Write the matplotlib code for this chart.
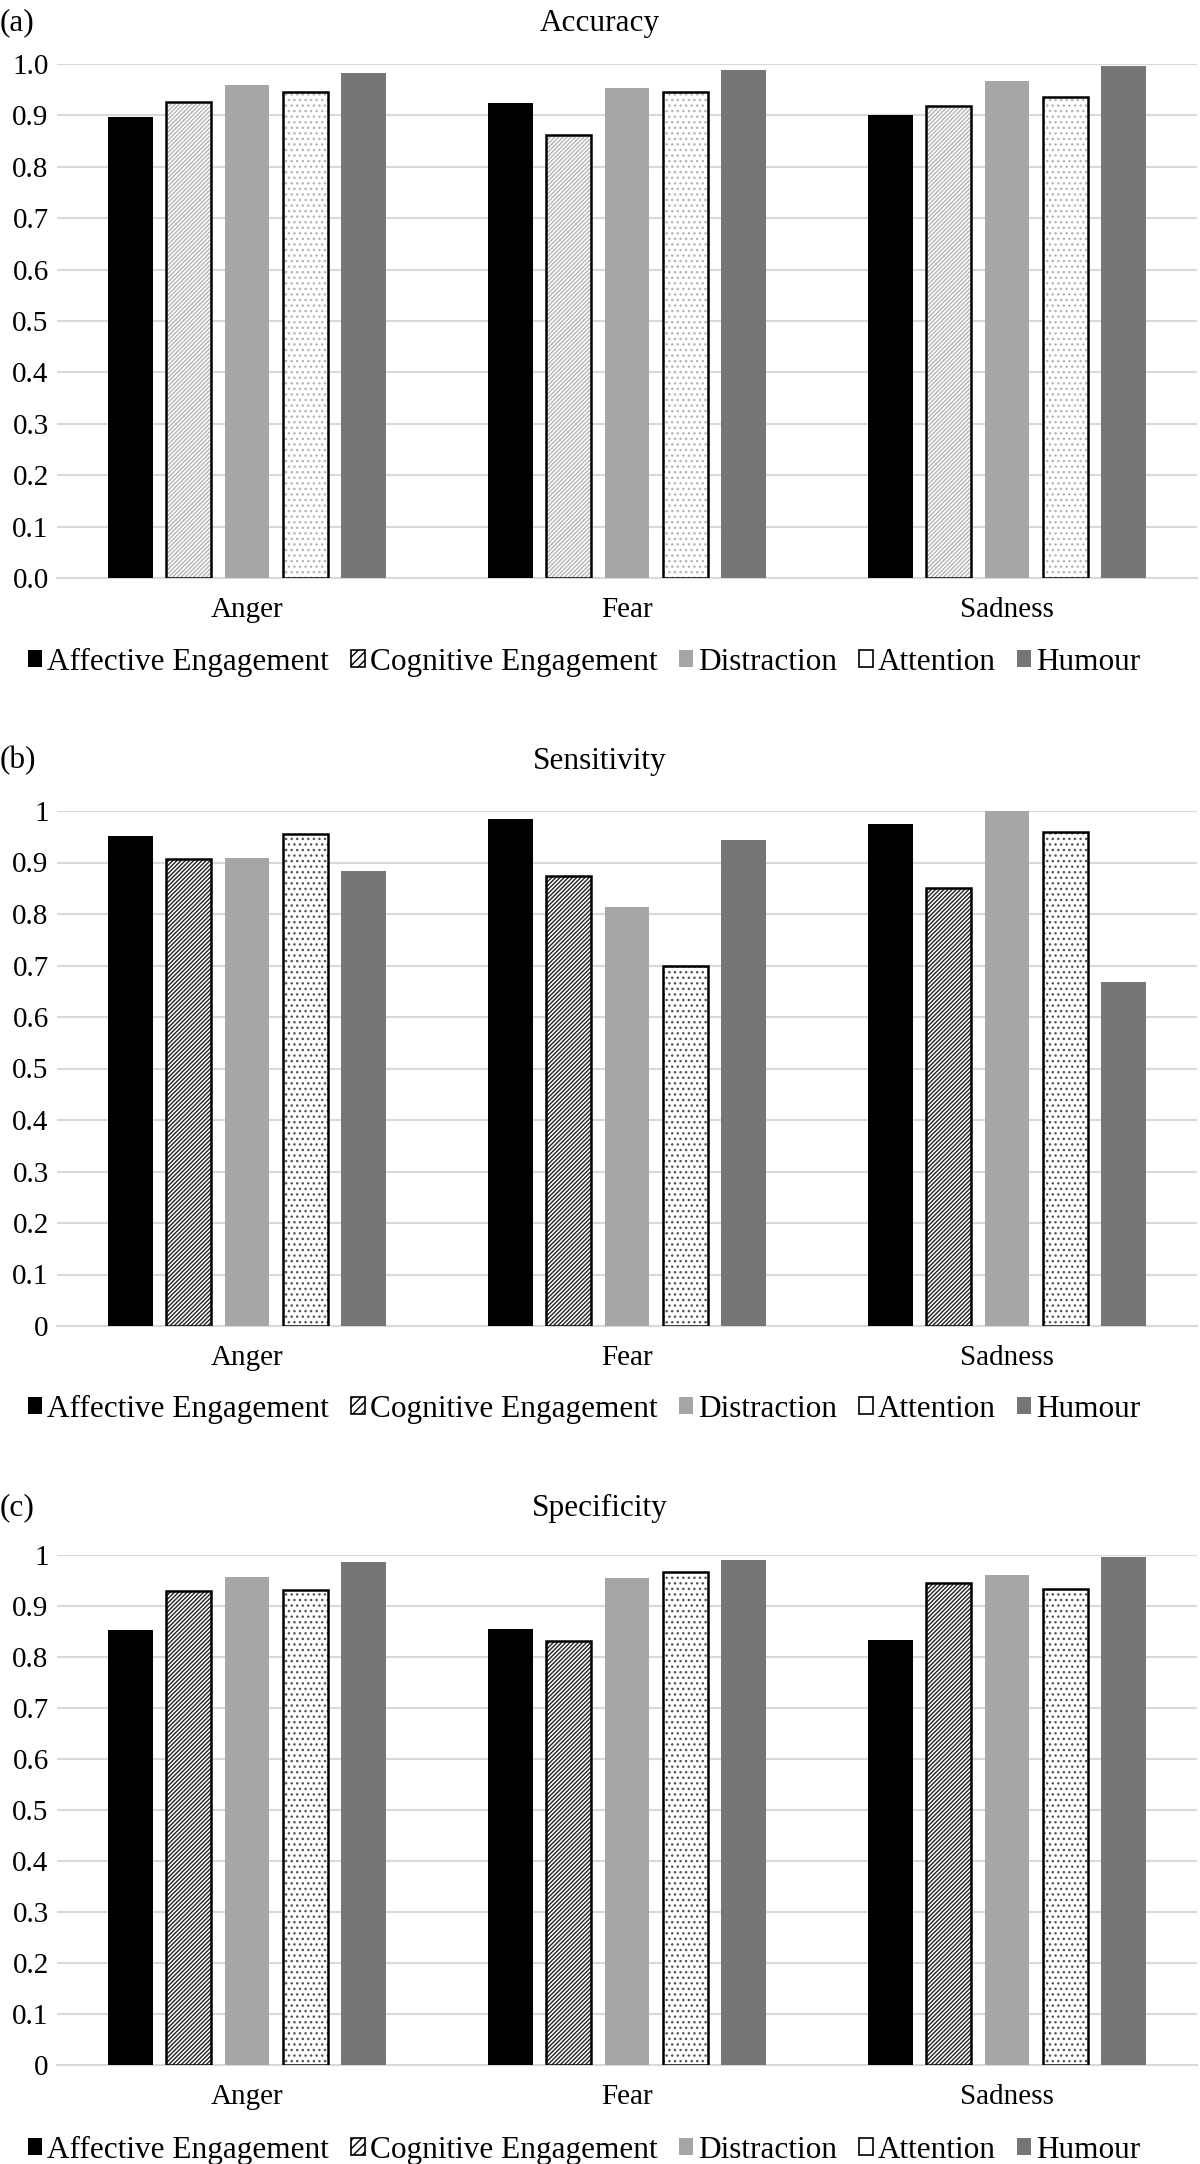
import numpy as np
import matplotlib
matplotlib.use("Agg")
from matplotlib import pyplot as plt
from matplotlib.patches import Patch

plt.rcParams['font.family'] = ['Liberation Serif', 'DejaVu Serif']
plt.rcParams['hatch.linewidth'] = 1.0

categories = ['Anger', 'Fear', 'Sadness']
series = ['Affective Engagement', 'Cognitive Engagement', 'Distraction', 'Attention', 'Humour']

# values: rows = series, columns = Anger, Fear, Sadness
accuracy = [
    [0.896, 0.924, 0.901],
    [0.927, 0.861, 0.919],
    [0.959, 0.954, 0.966],
    [0.946, 0.946, 0.935],
    [0.983, 0.988, 0.996],
]
sensitivity = [
    [0.951, 0.984, 0.975],
    [0.906, 0.873, 0.850],
    [0.909, 0.813, 1.000],
    [0.955, 0.699, 0.959],
    [0.884, 0.944, 0.667],
]
specificity = [
    [0.852, 0.855, 0.834],
    [0.929, 0.832, 0.945],
    [0.957, 0.955, 0.961],
    [0.932, 0.966, 0.933],
    [0.986, 0.990, 0.997],
]

panels = [('(a)', 'Accuracy', accuracy, True),
          ('(b)', 'Sensitivity', sensitivity, False),
          ('(c)', 'Specificity', specificity, False)]

W, H = 1200, 2164
# axes boxes in pixels: (y of value 1, y of value 0)
boxes = [(64, 578), (811, 1326), (1555, 2065)]
title_y = [23, 761, 1508]
legend_y = [662, 1409, 2150]

grid_c = '#D9D9D9'
fs = 21
fs_big = 22.5

fig = plt.figure(figsize=(W / 100, H / 100), dpi=100)

x = np.arange(len(categories))
pitch = 0.153
bw = 0.118

for p, (tag, title, data, one_dec) in enumerate(panels):
    top, bot = boxes[p]
    ax = fig.add_axes([57 / W, 1 - bot / H, 1140 / W, (bot - top) / H])
    light = (p == 0)
    hatch_c = '#B5B5B5' if light else '#222222'
    dot_c = '#B5B5B5' if light else '#555555'
    for i in range(5):
        xs = x + (i - 2) * pitch
        vals = data[i]
        if i == 0:
            ax.bar(xs, vals, bw, color='black', zorder=3)
        elif i == 2:
            ax.bar(xs, vals, bw, color='#A6A6A6', zorder=3)
        elif i == 4:
            ax.bar(xs, vals, bw, color='#767676', zorder=3)
        else:
            h = '////////' if i == 1 else '...'
            hc = hatch_c if i == 1 else dot_c
            ax.bar(xs, vals, bw, color='white', edgecolor=hc, hatch=h,
                   linewidth=0, zorder=3)
            ax.bar(xs, vals, bw, fill=False, edgecolor='black',
                   linewidth=1.8, zorder=4)
    ax.set_xlim(-0.5, 2.5)
    ax.set_ylim(0, 1)
    ticks = np.arange(0, 1.01, 0.1)
    ax.set_yticks(ticks)
    if one_dec:
        ax.set_yticklabels(['%.1f' % v for v in ticks])
    else:
        ax.set_yticklabels(['0'] + ['%.1f' % v for v in ticks[1:-1]] + ['1'])
    ax.set_xticks(x)
    ax.set_xticklabels(categories)
    ax.tick_params(axis='both', length=0, labelsize=fs)
    ax.tick_params(axis='x', pad=14)
    ax.tick_params(axis='y', pad=6)
    for s in ['top', 'right', 'left']:
        ax.spines[s].set_visible(False)
    ax.spines['bottom'].set_color(grid_c)
    ax.spines['bottom'].set_linewidth(1.5)
    ax.yaxis.grid(True, color=grid_c, linewidth=1.5, zorder=0)
    ax.set_axisbelow(True)

    fig.text(0.0, 1 - title_y[p] / H, tag, fontsize=fs_big, ha='left', va='center')
    fig.text(0.5, 1 - title_y[p] / H, title, fontsize=fs_big, ha='center', va='center')

    leg_cols = ['black', 'white', '#A6A6A6', 'white', '#767676']
    handles = []
    for i in range(5):
        if i in (1, 3):
            handles.append(Patch(facecolor='white', edgecolor='black', linewidth=1.2,
                                 hatch=('////' if i == 1 else None), label=series[i]))
        else:
            handles.append(Patch(facecolor=leg_cols[i], edgecolor='none', label=series[i]))
    fig.legend(handles=handles, loc='center', ncol=5, frameon=False,
               bbox_to_anchor=(0.487, 1 - legend_y[p] / H), fontsize=fs_big,
               handlelength=0.45, handleheight=0.45, handletextpad=0.15,
               columnspacing=0.7)

fig.savefig('out.png', dpi=100)
